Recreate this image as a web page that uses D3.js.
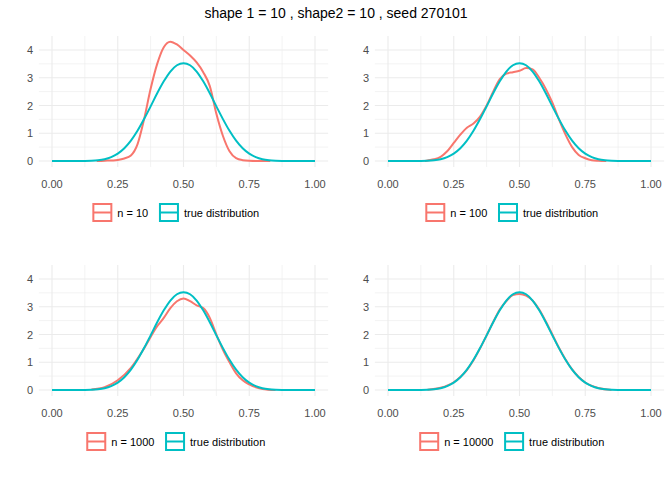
<!DOCTYPE html><html><head><meta charset="utf-8"><script src="https://cdn.jsdelivr.net/npm/d3@7"></script>
<style>body{margin:0;background:#fff;font-family:"Liberation Sans",Arial,sans-serif}</style></head><body><svg id="c" width="672" height="480"></svg>
<script>
const title = "shape 1 = 10 , shape2 = 10 , seed 270101";
const xTicks = [0, 0.25, 0.5, 0.75, 1];
const yTicks = [0, 1, 2, 3, 4];
const trueX = [0,0.05,0.1,0.125,0.15,0.175,0.2,0.225,0.25,0.275,0.3,0.325,0.35,0.375,0.4,0.425,0.45,0.475,0.5,0.525,0.55,0.575,0.6,0.625,0.65,0.675,0.7,0.725,0.75,0.775,0.8,0.825,0.85,0.875,0.9,0.95,1];
const trueY = [0,0,0.0004,0.002,0.008,0.025,0.063,0.138,0.264,0.459,0.733,1.087,1.51,1.97,2.44,2.87,3.224,3.45,3.524,3.45,3.224,2.87,2.44,1.97,1.51,1.087,0.733,0.459,0.264,0.138,0.063,0.025,0.008,0.002,0.0004,0,0];
const n10X = [0.17,0.2,0.25,0.275,0.3,0.325,0.35,0.375,0.4,0.425,0.45,0.475,0.5,0.525,0.55,0.575,0.6,0.625,0.65,0.675,0.7,0.725,0.75,0.8,0.83];
const n10Y = [0,0.01,0.04,0.09,0.2,0.6,1.5,2.6,3.5,4.1,4.3,4.2,4.0,3.8,3.55,3.2,2.7,1.7,0.9,0.35,0.1,0.03,0.01,0,0];
const n100X = [0.14,0.15,0.175,0.2,0.225,0.25,0.275,0.3,0.325,0.35,0.375,0.4,0.425,0.45,0.475,0.5,0.525,0.55,0.575,0.6,0.625,0.65,0.675,0.7,0.725,0.75,0.775,0.8,0.83];
const n100Y = [0,0.02,0.06,0.15,0.35,0.65,0.95,1.2,1.35,1.6,2.0,2.5,2.95,3.15,3.2,3.25,3.35,3.3,3.0,2.6,2.1,1.5,0.95,0.5,0.22,0.1,0.03,0.01,0];
const n1000X = [0.15,0.2,0.25,0.3,0.35,0.4,0.425,0.45,0.475,0.5,0.525,0.55,0.575,0.6,0.625,0.65,0.675,0.7,0.725,0.75,0.8,0.85];
const n1000Y = [0.02,0.1,0.35,0.8,1.5,2.3,2.6,2.95,3.2,3.3,3.2,3.05,2.95,2.6,2.0,1.45,1.0,0.6,0.35,0.2,0.04,0];
const n10000X = [0.15,0.2,0.25,0.275,0.3,0.325,0.35,0.375,0.4,0.425,0.45,0.475,0.5,0.525,0.55,0.575,0.6,0.625,0.65,0.675,0.7,0.725,0.75,0.8,0.85];
const n10000Y = [0.01,0.08,0.28,0.47,0.72,1.07,1.5,1.97,2.45,2.9,3.2,3.42,3.46,3.4,3.22,2.9,2.47,2.0,1.52,1.1,0.74,0.47,0.27,0.07,0];
const panels = [
 {label:"n = 10", x:n10X, y:n10Y, ox:0, oy:0},
 {label:"n = 100", x:n100X, y:n100Y, ox:336, oy:0},
 {label:"n = 1000", x:n1000X, y:n1000Y, ox:0, oy:229},
 {label:"n = 10000", x:n10000X, y:n10000Y, ox:336, oy:229}
];
const RED="#F8766D", BLUE="#00BFC4";
const svg=d3.select("#c");
svg.append("text").attr("x",336).attr("y",18).attr("text-anchor","middle").attr("font-size",14).attr("fill","#000").text(title);
panels.forEach(p=>{
  const g=svg.append("g").attr("transform",`translate(${p.ox},${p.oy})`);
  const x=d3.scaleLinear().domain([-0.05,1.05]).range([52-0.05*263,315+0.05*263]);
  const y=d3.scaleLinear().domain([0,4]).range([161,50]);
  const top=36, bot=y(-0.215);
  [0.125,0.375,0.625,0.875].forEach(v=>g.append("line").attr("x1",x(v)).attr("x2",x(v)).attr("y1",top).attr("y2",bot).attr("stroke","#ebebeb").attr("stroke-width",0.6));
  [0.5,1.5,2.5,3.5].forEach(v=>g.append("line").attr("y1",y(v)).attr("y2",y(v)).attr("x1",x(-0.05)).attr("x2",x(1.05)).attr("stroke","#ebebeb").attr("stroke-width",0.6));
  xTicks.forEach(v=>g.append("line").attr("x1",x(v)).attr("x2",x(v)).attr("y1",top).attr("y2",bot).attr("stroke","#ebebeb").attr("stroke-width",1.1));
  yTicks.forEach(v=>g.append("line").attr("y1",y(v)).attr("y2",y(v)).attr("x1",x(-0.05)).attr("x2",x(1.05)).attr("stroke","#ebebeb").attr("stroke-width",1.1));
  xTicks.forEach(v=>g.append("text").attr("x",x(v)).attr("y",188).attr("text-anchor","middle").attr("font-size",11).attr("fill","#4d4d4d").text(d3.format(".2f")(v)));
  yTicks.forEach(v=>g.append("text").attr("x",33).attr("y",y(v)+4).attr("text-anchor","end").attr("font-size",11).attr("fill","#4d4d4d").text(v));
  const line=d3.line().x(d=>x(d[0])).y(d=>y(d[1])).curve(d3.curveMonotoneX);
  g.append("path").attr("d",line(d3.zip(p.x,p.y))).attr("fill","none").attr("stroke",RED).attr("stroke-width",2);
  g.append("path").attr("d",line(d3.zip(trueX,trueY))).attr("fill","none").attr("stroke",BLUE).attr("stroke-width",2);
  // legend
  const lg=g.append("g");
  const items=[{c:RED,t:p.label},{c:BLUE,t:"true distribution"}];
  let cx=0; const parts=[];
  items.forEach(it=>{const w=it.t.length*6.1; parts.push({...it,x:cx,w}); cx+=20+5+w+5;});
  const total=cx-5, start=183-total/2+7;
  parts.forEach(it=>{
    const k=lg.append("g").attr("transform",`translate(${start+it.x},203)`);
    k.append("rect").attr("x",1).attr("y",1).attr("width",18).attr("height",17).attr("fill","none").attr("stroke",it.c).attr("stroke-width",2);
    k.append("line").attr("x1",1).attr("x2",19).attr("y1",9.5).attr("y2",9.5).attr("stroke",it.c).attr("stroke-width",2);
    k.append("text").attr("x",25).attr("y",14).attr("font-size",11).attr("fill","#000").text(it.t);
  });
});
</script></body></html>
